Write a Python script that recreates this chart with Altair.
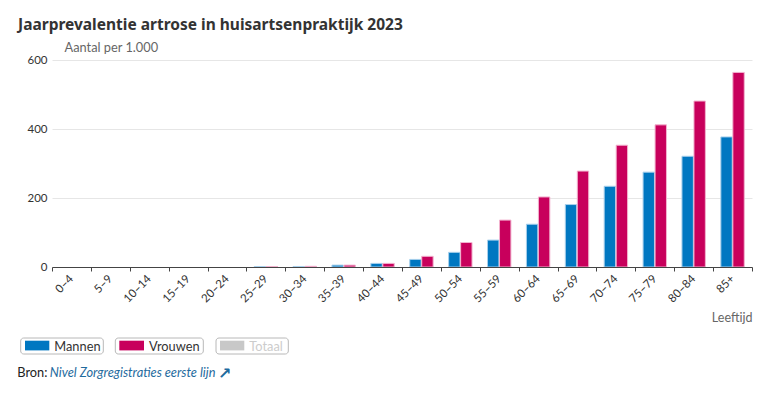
import altair as alt
import pandas as pd

categories = ["0–4", "5–9", "10–14", "15–19", "20–24", "25–29", "30–34", "35–39", "40–44",
              "45–49", "50–54", "55–59", "60–64", "65–69", "70–74", "75–79", "80–84", "85+"]
mannen = [None, None, None, None, None, 1.0, 1.5, 5.5, 10.5, 22, 42.5, 78, 124, 181, 234, 275, 321, 377]
vrouwen = [None, None, None, None, None, 1.2, 2.0, 5.5, 10.5, 31, 71, 136, 203, 278, 353, 412, 481, 564]
series = ["Mannen", "Vrouwen"]
legend_items = ["Mannen", "Vrouwen", "Totaal"]

FONT = "Lato"
fill_colors = ["#0077c1", "#c8005c"]
stroke_colors = ["#a9d0ec", "#f2b3cf"]

rows = []
for c, m, v in zip(categories, mannen, vrouwen):
    rows.append({"Leeftijd": c, "Geslacht": "Mannen", "Waarde": m})
    rows.append({"Leeftijd": c, "Geslacht": "Vrouwen", "Waarde": v})
df = pd.DataFrame(rows)

W, H = 700, 207

bars = alt.Chart(df).mark_bar(strokeWidth=1).encode(
    x=alt.X("Leeftijd:N", sort=categories,
            scale=alt.Scale(domain=categories, paddingInner=0, paddingOuter=0),
            axis=alt.Axis(title="Leeftijd", labelAngle=-45, labelAlign="right",
                          labelBaseline="middle", labelPadding=6, tickSize=4,
                          tickBand="extent", domainColor="#444", tickColor="#444",
                          labelColor="#333", labelFontSize=11.5, labelFont=FONT,
                          titleAnchor="end", titleAlign="right", titleX=W, titleY=54,
                          titleBaseline="alphabetic", titleColor="#666",
                          titleFontSize=12.5, titleFontWeight="normal", titleFont=FONT,
                          grid=False, zindex=1)),
    xOffset=alt.XOffset("Geslacht:N", sort=series,
                        scale=alt.Scale(domain=series, paddingInner=0.05, paddingOuter=0.645)),
    y=alt.Y("Waarde:Q", scale=alt.Scale(domain=[0, 600], nice=False),
            axis=alt.Axis(values=[0, 200, 400, 600], title="Aantal per 1.000",
                          titleAngle=0, titleAlign="left", titleBaseline="alphabetic",
                          titleX=12, titleY=-8.6, titleColor="#666", titleFontSize=12.8,
                          titleFontWeight="normal", titleFont=FONT,
                          domain=False, ticks=False, labelPadding=5,
                          labelColor="#333", labelFontSize=11.5, labelFont=FONT,
                          gridColor="#e6e6e6", gridWidth=1)),
    color=alt.Color("Geslacht:N", scale=alt.Scale(domain=series, range=fill_colors), legend=None),
    stroke=alt.Stroke("Geslacht:N", scale=alt.Scale(domain=series, range=stroke_colors), legend=None),
)

one = alt.Data(values=[{"k": 1}])
legend_layout = {
    "Mannen": dict(box=(-31.3, 51.3), sw=(-27, -2.7), tx=2.3, fill="#0077c1", text="#333"),
    "Vrouwen": dict(box=(63.3, 151.3), sw=(67.3, 92), tx=97, fill="#c8005c", text="#333"),
    "Totaal": dict(box=(164, 236.3), sw=(168, 192.3), tx=197.3, fill="#c8c8c8", text="#cccccc"),
}
layers = [bars]
for name in legend_items:
    L = legend_layout[name]
    layers.append(alt.Chart(one).mark_rect(fill="white", stroke="#b8b8b8", strokeWidth=1,
                                           cornerRadius=3).encode(
        x=alt.value(L["box"][0]), x2=alt.value(L["box"][1]),
        y=alt.value(278), y2=alt.value(294)))
    layers.append(alt.Chart(one).mark_rect(fill=L["fill"]).encode(
        x=alt.value(L["sw"][0]), x2=alt.value(L["sw"][1]),
        y=alt.value(280.7), y2=alt.value(290.4)))
    layers.append(alt.Chart(one).mark_text(align="left", baseline="middle", font=FONT,
                                           fontSize=12.8, color=L["text"]).encode(
        x=alt.value(L["tx"]), y=alt.value(286.5), text=alt.value(name)))

layers.append(alt.Chart(one).mark_text(align="left", baseline="alphabetic", font=FONT,
                                       fontSize=12.8, color="#222").encode(
    x=alt.value(-34.7), y=alt.value(317.4), text=alt.value("Bron:")))
layers.append(alt.Chart(one).mark_text(align="left", baseline="alphabetic", font=FONT,
                                       fontSize=12.8, fontStyle="italic", color="#1f6b9e").encode(
    x=alt.value(-2.3), y=alt.value(317.4), text=alt.value("Nivel Zorgregistraties eerste lijn")))
layers.append(alt.Chart(one).mark_text(align="left", baseline="alphabetic", font="DejaVu Sans",
                                       fontSize=16, fontWeight="bold", color="#1f6b9e").encode(
    x=alt.value(166), y=alt.value(319), text=alt.value("↗")))

chart = alt.layer(*layers).properties(
    width=W, height=H,
    title=alt.TitleParams("Jaarprevalentie artrose in huisartsenpraktijk 2023",
                          anchor="start", frame="group", dx=-34, offset=8,
                          font="Noto Sans", fontSize=15.5, fontWeight="bold", color="#333"),
    autosize=alt.AutoSizeParams(type="none"),
    padding={"left": 44, "top": 52, "right": 16, "bottom": 118},
).configure_view(stroke=None)

chart.save("out.html", embed_options={"renderer": "svg", "actions": False})
